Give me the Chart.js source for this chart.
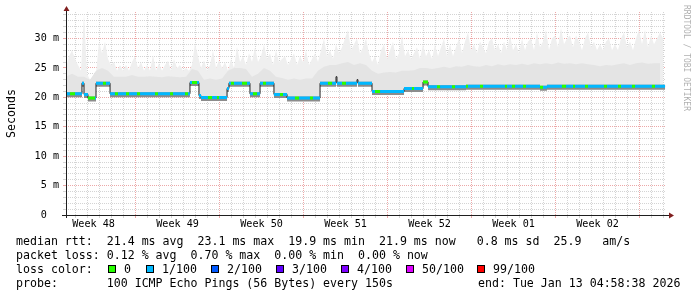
<!DOCTYPE html>
<html><head><meta charset="utf-8">
<script src="https://cdn.jsdelivr.net/npm/chart.js@4"></script>
<style>html,body{margin:0;padding:0;background:#fff;overflow:hidden}</style>
</head><body>
<canvas id="c" width="697" height="297" style="display:block;width:697px;height:297px"></canvas>
<script>
// ---------- data (x in days since graph start, y in milliseconds) ----------
const weekLabels = ['Week 48','Week 49','Week 50','Week 51','Week 52','Week 01','Week 02'];

const medianDay = [0.00,0.33,0.75,1.33,1.50,1.83,2.42,2.50,3.08,3.33,3.67,4.08,4.33,5.00,5.25,5.92,6.17,7.42,7.67,8.67,8.92,9.92,10.17,10.33,10.50,10.92,11.08,11.25,11.83,12.17,12.58,12.75,13.42,13.58,13.75,14.00,14.67,15.08,15.33,15.58,15.92,16.17,16.42,16.67,17.33,17.83,18.08,18.42,19.08,19.42,20.33,20.58,21.17,21.83,22.17,22.50,22.58,23.00,23.33,24.08,24.25,24.33,25.50,25.75,26.17,28.17,28.83,29.00,29.75,30.17,30.92,31.17,32.17,32.42,33.33,33.50,34.50,34.75,36.58,36.75,37.17,37.42,38.08,38.33,39.50,39.75,40.08,41.33,41.67,42.25,42.42,43.25,43.50,44.83,45.08,46.00,46.25,47.17,47.42,48.83,49.08,49.92];
const medianMs  = [20.6,20.6,20.6,22.4,20.5,19.9,19.9,22.4,22.4,22.4,20.6,20.6,20.6,20.6,20.6,20.6,20.6,20.6,20.6,20.6,20.6,20.6,20.6,22.5,22.5,22.5,20.3,19.95,19.95,19.95,19.95,19.95,21.5,22.4,22.4,22.4,22.4,22.4,20.6,20.6,20.6,22.4,22.4,22.4,20.5,20.5,20.5,19.9,19.9,19.9,19.9,19.9,22.4,22.4,22.4,23.5,22.4,22.4,22.4,22.4,23.0,22.4,21.0,21.0,21.0,21.5,21.5,21.5,22.6,21.8,21.8,21.8,21.8,21.8,21.9,21.9,21.9,21.9,21.9,21.9,21.9,21.9,21.9,21.9,21.7,21.7,21.9,21.9,21.9,21.9,21.9,21.9,21.9,21.9,21.9,21.9,21.9,21.9,21.9,21.9,21.9,21.9];
const medianLoss = [1,0,1,1,1,0,1,1,0,1,1,0,1,0,1,0,1,0,1,0,1,0,1,1,0,1,1,1,0,1,0,1,1,1,0,1,0,1,1,0,1,1,0,1,1,0,1,1,0,1,0,1,1,0,1,1,1,0,1,1,1,1,1,0,1,1,0,1,0,1,0,1,0,1,0,1,0,1,0,1,0,1,0,1,0,1,1,0,1,0,1,0,1,0,1,0,1,0,1,0,1,1];

// light outer smoke (upper envelope of the ping spread), one value per quarter day
const smokeTopMs = [
  25,27,28,26.5, 25.5,24.5,34.3,24, 23,23.5,24,29.4, 27.5,29.5,26.5,25.5, 26,24.5,25.5,24.5,
  25.5,24.5,26,27, 25,26,24.5,25.5, 24.5,27.2,24.5,25.8, 24.5,25.5,26.2,24.5, 26.5,25,25.5,24.5,
  25,24.5,25.5,29.2, 27,25,26.3,24.5, 25.5,28,25,26.3, 25,26,24.5,26.5, 25,28.6,26,27,
  25.5,27.5,26,28.5, 26,27,29,26.5, 27.5,25.5,28,26, 26.5,27,25.5,26.5, 27.5,25.5,27,26,
  28,25.5,26.5,27.5, 26,28,30,27, 28,26.5,29,27.5, 28.5,30,31.5,28, 29,30,27.5,28.5,
  30,27.5,26,27, 25.5,28,29,26.5, 28,29.5,26.5,27.5, 30.5,27,28,26.5, 27.5,28.5,26.5,29,
  27,28,26.5,29, 27,28.5,30,27, 29,27,28.5,30, 27.5,29.5,31,28, 29,27.5,29.5,28.5,
  27.5,29.5,30,28, 29,27.5,29.5,28, 30.5,28,29,27.5, 30,28,29.5,30, 28,31,28.5,29.5,
  31.5,28,30,30.5, 28.5,31.8,29,30, 30.5,28.5,30.5,29.5, 28,30,31,28.5, 29.5,28,29,28,
  29.5,30,28,29, 28,30,31,28.5, 29.5,28,30,31.5, 29,31.5,28.5,30.5, 29,30,31,30
];
// denser inner smoke just above the median, one value per half day
const smokeDenseMs = [
  23.5,24,23.5,23.5,23,24.5,25,24.5,23.5,23.5, 23.5,23.8,23.5,23.5,23.6,23.5,23.4,23.6,23.5,23.4,
  23.5,24.8,24.5,23,23.2,23,23.2,24.5,25,25, 24.8,23.5,24,25,24.5,23.5,23.3,23,23.2,23,
  23.2,23.2,24.5,25.2,25.5,25.5,25.8,26,25.5,25.8, 25.5,24.5,24,24.2,24.3,24.2,24.5,24.5,24.6,25,
  25,24.8,25,25.2,25,25.3,25.2,25.5,25.3,25.2, 25.5,25.3,25.6,25.4,25.6,25.5,25.7,25.5,25.8,25.6,
  25.8,25.6,25.9,25.7,25.8,25.6,25.8,25.6,25.5,25.3, 25.5,25.4,25.6,25.8,25.5,25.8,25.9,25.7,25.8,25.8
];

const lossLevels = [0, 1, 2, 3, 4, 50, 99];
const lossLabels = ['0', '1/100', '2/100', '3/100', '4/100', '50/100', '99/100'];
const lossColors = ['#26ff00', '#00b8ff', '#0059ff', '#5e00ff', '#7e00ff', '#dd00ff', '#ff0000'];

const statsLines = [
  'median rtt:  21.4 ms avg  23.1 ms max  19.9 ms min  21.9 ms now   0.8 ms sd  25.9   am/s',
  'packet loss: 0.12 % avg  0.70 % max  0.00 % min  0.00 % now'
];
const probeText = 'probe:       100 ICMP Echo Pings (56 Bytes) every 150s';
const endText = 'end: Tue Jan 13 04:58:38 2026';

// ---------- build datasets from the arrays ----------
const LAST_DAY = 49.92;
const medianPts = medianDay.map((d, i) => ({x: d, y: medianMs[i]}));
const smokePts = smokeTopMs.map((v, i) => ({x: Math.min(i * 0.25, LAST_DAY), y: v}));
const densePts = smokeDenseMs.map((v, i) => ({x: Math.min(i * 0.5, LAST_DAY), y: v}));
function pieces(filter) {
  const out = [];
  for (let i = 0; i < medianDay.length - 1; i++) {
    if (!filter(i)) continue;
    out.push({x: medianDay[i], y: medianMs[i]});
    out.push({x: medianDay[i + 1], y: medianMs[i]});
    out.push({x: medianDay[i + 1], y: null});
  }
  return out;
}

const MONO = '"DejaVu Sans Mono", monospace';
const MINOR = 'rgba(212,212,212,1)';
const MAJOR = 'rgba(236,168,168,1)';
const DAY0 = 0.8;          // first day boundary (days)
const FIRST_WEEK_LINE = 5; // day-line index of first week boundary

function xLineColor(ctx) {
  const k = Math.round((ctx.tick.value - DAY0) / 0.5);
  if (k % 2) return 'rgba(0,0,0,0)';
  const d = k / 2;
  return ((d - FIRST_WEEK_LINE) % 7 === 0) ? MAJOR : MINOR;
}
function yLineColor(ctx) {
  const v = ctx.tick.value;
  if (v === 0) return 'rgba(0,0,0,0)';
  return v % 5 === 0 ? MAJOR : MINOR;
}

const datasets = [
  {label: 'smoke', data: smokePts, borderWidth: 0, pointRadius: 0, backgroundColor: '#efefef', fill: {target: 2}, order: 12},
  {label: 'dense', data: densePts, borderWidth: 0, pointRadius: 0, backgroundColor: '#e4e4e4', fill: {target: 2}, order: 11},
  {label: 'median', data: medianPts, stepped: true, borderColor: '#202020', borderWidth: 1, pointRadius: 0, fill: false, order: 8},
  {label: 'shadow', data: pieces(() => true), borderColor: '#8c8c8c', borderWidth: 5, borderCapStyle: 'butt',
   pointRadius: 0, fill: false, spanGaps: false, order: 9}
];
lossLevels.forEach((lv, i) => {
  datasets.push({label: 'loss ' + lossLabels[i], data: pieces(j => medianLoss[j] === lv), borderColor: lossColors[i], borderWidth: 3,
    borderCapStyle: 'butt', pointRadius: 0, fill: false, spanGaps: false, order: 1});
});

const decor = {
  id: 'decor',
  beforeDatasetDraw(chart, args) {
    if (args.index === 3) { chart.ctx.save(); chart.ctx.translate(0, 1); }
  },
  afterDatasetDraw(chart, args) {
    if (args.index === 3) chart.ctx.restore();
  },
  afterDraw(chart) {
    const ctx = chart.ctx, a = chart.chartArea;
    ctx.save();
    // axes
    ctx.strokeStyle = '#1f1f1f'; ctx.lineWidth = 1;
    ctx.beginPath();
    ctx.moveTo(a.left - 4, a.bottom + 0.5); ctx.lineTo(a.right + 4, a.bottom + 0.5);
    ctx.moveTo(a.left + 0.5, a.bottom + 3); ctx.lineTo(a.left + 0.5, a.top - 2);
    ctx.stroke();
    ctx.fillStyle = '#801f1f';
    ctx.beginPath();
    ctx.moveTo(a.right + 3, a.bottom - 2.5); ctx.lineTo(a.right + 8, a.bottom + 0.5); ctx.lineTo(a.right + 3, a.bottom + 3.5); ctx.closePath();
    ctx.moveTo(a.left - 2.5, a.top - 1); ctx.lineTo(a.left + 0.5, a.top - 6); ctx.lineTo(a.left + 3.5, a.top - 1); ctx.closePath();
    ctx.fill();
    // y title
    ctx.fillStyle = '#000';
    ctx.font = '11.6px ' + MONO;
    ctx.save(); ctx.translate(14.5, 113.5); ctx.rotate(-Math.PI / 2);
    ctx.textAlign = 'center'; ctx.textBaseline = 'alphabetic'; ctx.fillText('Seconds', 0, 0); ctx.restore();
    // watermark
    ctx.save(); ctx.translate(686, 5); ctx.rotate(Math.PI / 2);
    ctx.font = '8px ' + MONO; ctx.fillStyle = 'rgba(0,0,0,0.33)'; ctx.textAlign = 'left'; ctx.textBaseline = 'middle';
    ctx.fillText('RRDTOOL / TOBI OETIKER', 0, 0); ctx.restore();
    // legend
    ctx.font = '11.6px ' + MONO; ctx.textAlign = 'left'; ctx.textBaseline = 'alphabetic'; ctx.fillStyle = '#000';
    ctx.fillText(statsLines[0], 16, 245);
    ctx.fillText(statsLines[1], 16, 259);
    ctx.fillText('loss color:', 16, 273);
    const boxX = [108, 146, 211, 276, 341, 406, 477];
    lossLabels.forEach((lab, i) => {
      ctx.fillStyle = lossColors[i];
      ctx.fillRect(boxX[i], 265, 8, 8);
      ctx.strokeStyle = '#000'; ctx.strokeRect(boxX[i] + 0.5, 265.5, 7, 7);
      ctx.fillStyle = '#000';
      ctx.fillText(lab, boxX[i] + 16, 273);
    });
    ctx.fillText(probeText, 16, 287);
    ctx.fillText(endText, 478, 287);
    ctx.restore();
  }
};

new Chart(document.getElementById('c'), {
  type: 'line',
  data: {datasets},
  plugins: [decor],
  options: {
    responsive: false, animation: false, devicePixelRatio: 1,
    layout: {padding: {left: 0, right: 31, top: 12, bottom: 0}},
    plugins: {legend: {display: false}, tooltip: {enabled: false}},
    elements: {line: {tension: 0}},
    scales: {
      x: {
        type: 'linear', min: 0, max: 50,
        afterBuildTicks(scale) {
          const t = [];
          for (let k = 0; DAY0 + k * 0.5 < 50; k++) t.push({value: +(DAY0 + k * 0.5).toFixed(2)});
          scale.ticks = t;
        },
        afterFit(scale) { scale.height = 82; },
        border: {display: false, dash: [1, 1]},
        grid: {color: xLineColor, lineWidth: 1, drawTicks: true, tickLength: 3, tickColor: xLineColor, borderDash: [1, 1]},
        ticks: {
          autoSkip: false, maxRotation: 0, minRotation: 0, padding: 0, color: '#000',
          font: {family: MONO, size: 10.15},
          callback(value) {
            const k = Math.round((value - DAY0) / 0.5) - 3;
            return (k >= 0 && k % 14 === 0 && weekLabels[k / 14]) ? weekLabels[k / 14] : '';
          }
        }
      },
      y: {
        type: 'linear', min: 0, max: 34.5,
        afterBuildTicks(scale) {
          const t = [];
          for (let v = 0; v <= 34; v++) t.push({value: v});
          scale.ticks = t;
        },
        afterFit(scale) { scale.width = 66; },
        border: {display: false, dash: [1, 1]},
        grid: {color: yLineColor, lineWidth: 1, drawTicks: true, tickLength: 3, tickColor: yLineColor, borderDash: [1, 1]},
        ticks: {
          autoSkip: false, padding: 4, color: '#000',
          font: {family: MONO, size: 10.15},
          callback(value) {
            if (value % 5 !== 0) return '';
            return value === 0 ? '0  ' : value + ' m';
          }
        }
      }
    }
  }
});
</script>
</body></html>
